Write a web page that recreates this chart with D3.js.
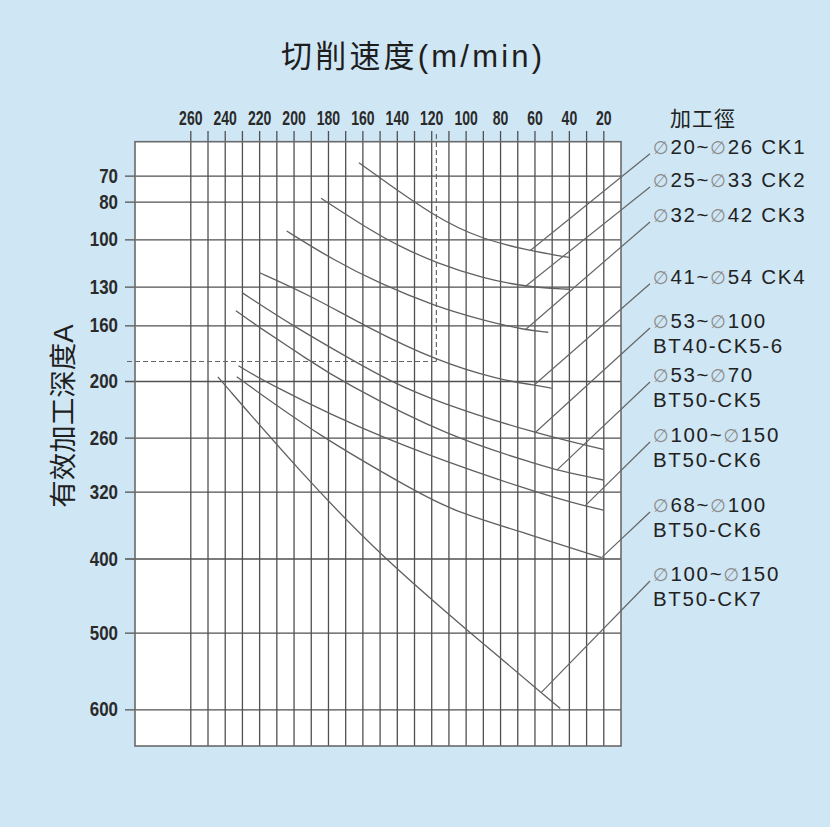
<!DOCTYPE html>
<html><head><meta charset="utf-8">
<script src="https://cdn.jsdelivr.net/npm/d3@7"></script>
<style>
html,body{margin:0;padding:0;background:#cfe6f5;}
svg{display:block;}
</style></head><body>
<svg id="chart" width="830" height="827"></svg>
<script>
// ---------- data ----------
const titleText = "切削速度(m/min)";
const yTitleText = "有效加工深度A";
const legendTitle = "加工徑";
const speedGrid = [260,250,240,230,220,210,200,190,180,170,160,150,140,130,120,110,100,90,80,70,60,50,40,30,20];
const speedLabels = [260,240,220,200,180,160,140,120,100,80,60,40,20];
const depthTicks = [70,80,100,130,160,200,260,320,400,500,600];

const labelCK1 = ["∅20~∅26 CK1"];
const labelCK2 = ["∅25~∅33 CK2"];
const labelCK3 = ["∅32~∅42 CK3"];
const labelCK4 = ["∅41~∅54 CK4"];
const labelCK56 = ["∅53~∅100", "BT40-CK5-6"];
const labelBT50CK5 = ["∅53~∅70", "BT50-CK5"];
const labelBT50CK6a = ["∅100~∅150", "BT50-CK6"];
const labelBT50CK6b = ["∅68~∅100", "BT50-CK6"];
const labelCK7 = ["∅100~∅150", "BT50-CK7"];

// curve points: cutting speed (m/min) and effective depth
const speedCK1 = [162,117,90,63,40];
const depthCK1 = [65,89,100,107.2,111.5];
const speedCK2 = [184,157.5,138,117,90,65.5,40];
const depthCK2 = [78.7,94,104.7,115,124.7,130,132];
const speedCK3 = [204,177,150,117,90,65.5,52];
const depthCK3 = [95.6,113,128,145.5,156,163.4,165];
const speedCK4 = [220,190,159.5,117,80,60,50];
const depthCK4 = [121,137,160,185.6,199.3,204.2,207.7];
const speedCK56 = [229.5,201,165,144,117,60,20];
const depthCK56 = [135,160,185.6,200,222,255.3,273];
const speedBT50CK5 = [233.5,221.4,190.4,173,109,57,47,20];
const depthBT50CK5 = [148.7,160.3,185.6,199.8,260,290,296,307];
const speedBT50CK6a = [232,217.6,151.7,56.8,30.6,20];
const depthBT50CK6a = [189,200,260,323,337,342];
const speedBT50CK6b = [233,184.6,130.4,109,60,21];
const depthBT50CK6b = [197,259,318,342,373,399];
const speedCK7 = [244,196.3,149.8,97.5,45];
const depthCK7 = [197,298,396,500,599];

// where each leader line touches its curve
const leaderSpeed = [62.6,65.5,65.5,60,60,47,30.6,21,56];
const leaderDepth = [107.2,130,163.4,204,255.3,296,337,399,578];

// reference (dashed) reading
const refSpeed = 117;
const refDepth = 186;

// ---------- layout ----------
const W = 830, H = 827;
const frame = {left:135, right:621, top:141.7, bottom:746};
const axisTopY = 131, axisLeftX = 125;
const depthPixels = [175.7,201.7,239.3,286.7,325.3,381,437.7,491.7,558.5,632.7,709.3];
const legendX = 653;
const legendFirstY = [146.7,180,215,276.7,321,375,435,505,574];
const legendLineGap = 24.5;

const series = [
  {label:labelCK1, s:speedCK1, d:depthCK1},
  {label:labelCK2, s:speedCK2, d:depthCK2},
  {label:labelCK3, s:speedCK3, d:depthCK3},
  {label:labelCK4, s:speedCK4, d:depthCK4},
  {label:labelCK56, s:speedCK56, d:depthCK56},
  {label:labelBT50CK5, s:speedBT50CK5, d:depthBT50CK5},
  {label:labelBT50CK6a, s:speedBT50CK6a, d:depthBT50CK6a},
  {label:labelBT50CK6b, s:speedBT50CK6b, d:depthBT50CK6b},
  {label:labelCK7, s:speedCK7, d:depthCK7}
];

const x = d3.scaleLinear().domain([260,20]).range([190.3,603.3]);
const y = d3.scaleLinear().domain(depthTicks).range(depthPixels);

const svg = d3.select("#chart");
svg.append("rect").attr("width",W).attr("height",H).attr("fill","#cfe6f5");

const gridColor = "#505050";
const tickFont = "'Liberation Sans',Arial,sans-serif";

// plot area
svg.append("rect")
  .attr("x",frame.left).attr("y",frame.top)
  .attr("width",frame.right-frame.left).attr("height",frame.bottom-frame.top)
  .attr("fill","#ffffff");

// top axis + vertical grid
const gx = svg.append("g")
  .attr("transform",`translate(0,${axisTopY})`)
  .call(d3.axisTop(x).tickValues(speedGrid)
    .tickSize(-(frame.bottom-axisTopY)).tickSizeOuter(0).tickPadding(6)
    .tickFormat(d => speedLabels.includes(d) ? String(d) : ""));
gx.select(".domain").remove();
gx.selectAll(".tick line").attr("stroke",gridColor).attr("stroke-width",1.3);
gx.selectAll(".tick text")
  .attr("font-family",tickFont).attr("font-size",20.5).attr("font-weight","bold")
  .attr("fill","#2a2a2a")
  .each(function(){
    const n = this.textContent.length;
    if (n) d3.select(this).attr("textLength", n*7.8).attr("lengthAdjust","spacingAndGlyphs");
  });

// left axis + horizontal grid
const gy = svg.append("g")
  .attr("transform",`translate(${axisLeftX},0)`)
  .call(d3.axisLeft(y).tickValues(depthTicks)
    .tickSize(-(frame.right-axisLeftX)).tickSizeOuter(0).tickPadding(7)
    .tickFormat(d3.format("d")));
gy.select(".domain").remove();
gy.selectAll(".tick line").attr("stroke",gridColor).attr("stroke-width",1.3);
gy.selectAll(".tick text")
  .attr("font-family",tickFont).attr("font-size",20.5).attr("font-weight","bold")
  .attr("fill","#2a2a2a")
  .each(function(){
    const n = this.textContent.length;
    if (n) d3.select(this).attr("textLength", n*9.4).attr("lengthAdjust","spacingAndGlyphs");
  });

// frame
svg.append("rect")
  .attr("x",frame.left).attr("y",frame.top)
  .attr("width",frame.right-frame.left).attr("height",frame.bottom-frame.top)
  .attr("fill","none").attr("stroke","#6a6a6a").attr("stroke-width",1.6);

// dashed reference lines
svg.append("line")
  .attr("x1",x(refSpeed)).attr("x2",x(refSpeed))
  .attr("y1",axisTopY+3).attr("y2",y(refDepth))
  .attr("stroke","#666").attr("stroke-width",1.2).attr("stroke-dasharray","5,3");
svg.append("line")
  .attr("x1",axisLeftX+2).attr("x2",x(refSpeed))
  .attr("y1",y(refDepth)).attr("y2",y(refDepth))
  .attr("stroke","#666").attr("stroke-width",1.2).attr("stroke-dasharray","5,3");

// curves
const line = d3.line().x(p => x(p[0])).y(p => y(p[1])).curve(d3.curveBasis);
svg.append("g").selectAll("path").data(series).join("path")
  .attr("d", sr => line(sr.s.map((v,i) => [v, sr.d[i]])))
  .attr("fill","none").attr("stroke","#606060").attr("stroke-width",1.3);

// leaders
svg.append("g").selectAll("line").data(series).join("line")
  .attr("x1",(sr,i) => x(leaderSpeed[i])).attr("y1",(sr,i) => y(leaderDepth[i]))
  .attr("x2",legendX-3).attr("y2",(sr,i) => legendFirstY[i]+7)
  .attr("stroke","#666").attr("stroke-width",1.2);

// legend labels
const lg = svg.append("g");
series.forEach((sr,i) => {
  sr.label.forEach((txt,k) => {
    const t = lg.append("text")
      .attr("x",legendX).attr("y",legendFirstY[i] + k*legendLineGap)
      .attr("dy","0.36em")
      .attr("font-family","'Liberation Sans',Arial,sans-serif")
      .attr("font-size",20.5).attr("letter-spacing",1.7).attr("fill","#222");
    const parts = txt.split(/(∅)/);
    parts.forEach(p => {
      if (!p) return;
      if (p === "∅") {
        t.append("tspan").text(p).attr("fill","#8c8c8c")
          .attr("font-family","'DejaVu Sans',sans-serif").attr("font-size",18);
      } else {
        t.append("tspan").text(p);
      }
    });
  });
});

svg.append("text")
  .attr("x",703).attr("y",118).attr("dy","0.38em")
  .attr("text-anchor","middle")
  .attr("font-family","'Noto Sans CJK TC','Noto Sans CJK SC',sans-serif")
  .attr("font-size",21).attr("letter-spacing",1).attr("fill","#222")
  .text(legendTitle);

// title
svg.append("text")
  .attr("x",281).attr("y",55).attr("dy","0.38em")
  .attr("font-family","'Liberation Sans','Noto Sans CJK SC',sans-serif")
  .attr("font-size",31).attr("letter-spacing",3.2).attr("fill","#1e1e1e")
  .text(titleText);

// y title
svg.append("text")
  .attr("transform","translate(63,416) rotate(-90)")
  .attr("text-anchor","middle").attr("dy","0.38em")
  .attr("font-family","'Liberation Sans','Noto Sans CJK SC',sans-serif")
  .attr("font-size",27.5).attr("fill","#1e1e1e")
  .text(yTitleText);
</script>
</body></html>
